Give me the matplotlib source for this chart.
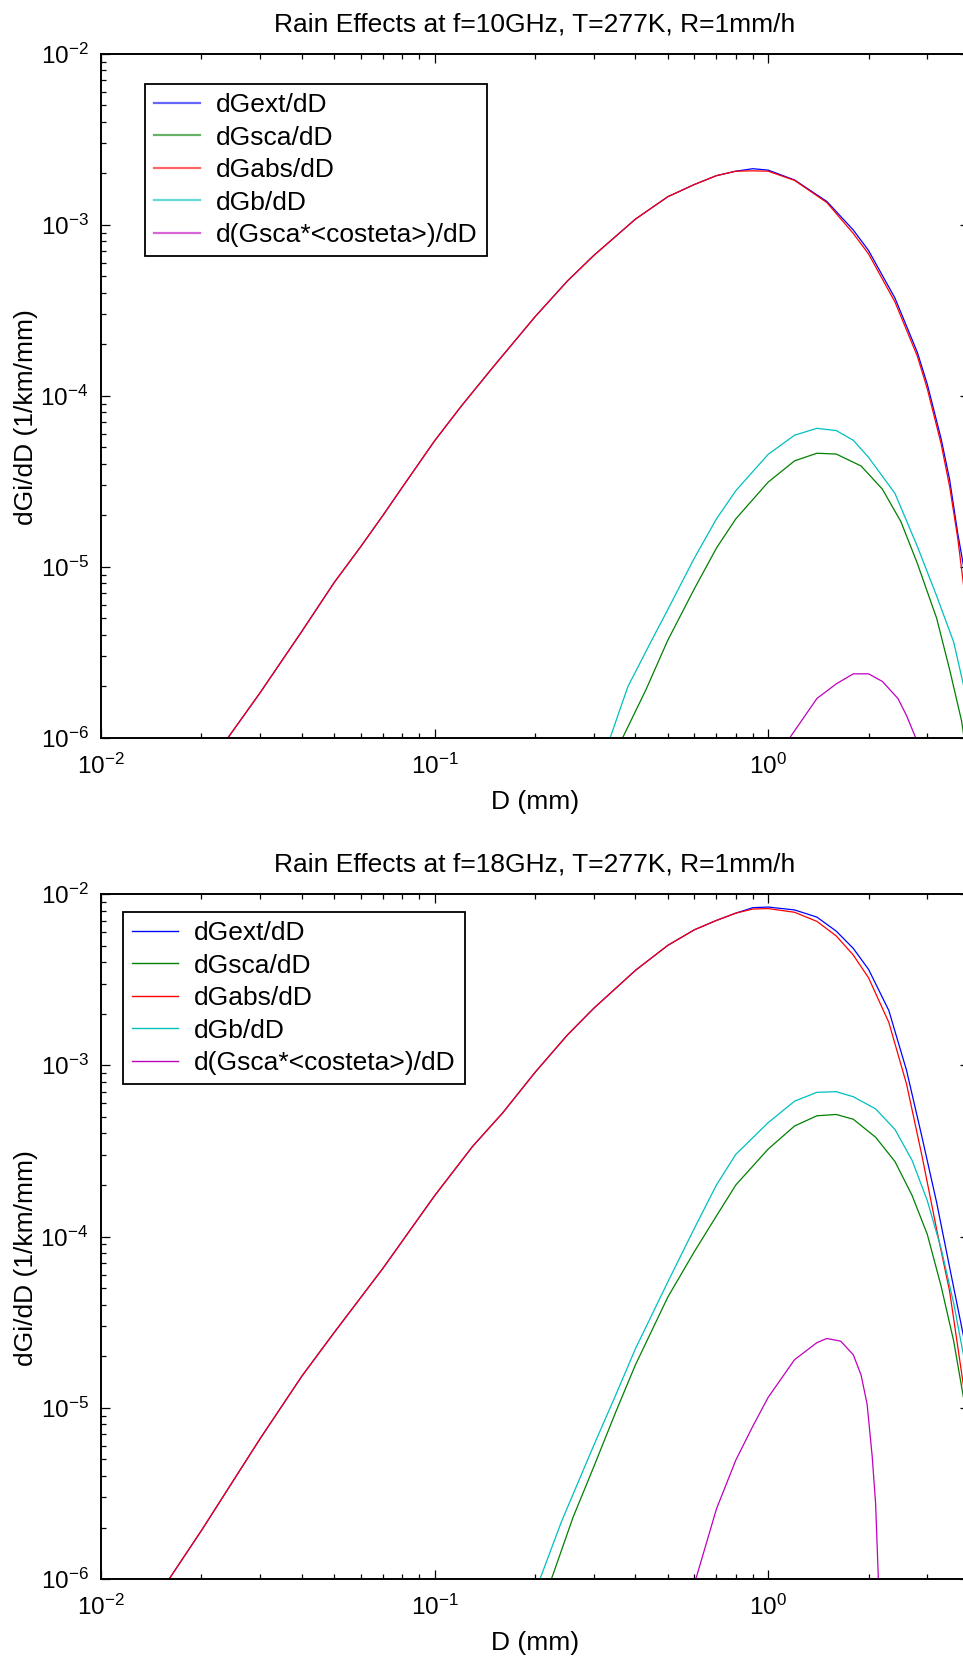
# Rain effects: size-resolved extinction, scattering, absorption, backscatter
# and asymmetry terms per drop diameter, for two frequencies.

import matplotlib
matplotlib.use("Agg")
import matplotlib.pyplot as plt

plt.rcParams['font.family'] = ['Liberation Sans', 'DejaVu Sans']
plt.rcParams['mathtext.default'] = 'regular'
plt.rcParams['axes.unicode_minus'] = False

labels = ['dGext/dD', 'dGsca/dD', 'dGabs/dD', 'dGb/dD', 'd(Gsca*<costeta>)/dD']
colors = ['#0000ff', '#008000', '#ff0000', '#00bfbf', '#bf00bf']

# ---- f = 10 GHz ----
d_ea_10 = [0.024, 0.03, 0.04, 0.05, 0.06, 0.07, 0.08, 0.1, 0.12, 0.15, 0.2, 0.25,
           0.3, 0.4, 0.5, 0.6, 0.7, 0.8, 0.9, 1.0, 1.2, 1.5, 1.8, 2.0, 2.4, 2.8,
           3.0, 3.3, 3.5, 3.7, 3.85, 4.0]
g_ext_10 = [1.0e-6, 1.84e-6, 4.2e-6, 8.1e-6, 1.31e-5, 2.0e-5, 2.92e-5, 5.46e-5,
            8.67e-5, 1.48e-4, 2.90e-4, 4.69e-4, 6.62e-4, 1.08e-3, 1.46e-3, 1.72e-3,
            1.94e-3, 2.06e-3, 2.13e-3, 2.09e-3, 1.83e-3, 1.37e-3, 9.33e-4, 7.08e-4,
            3.73e-4, 1.80e-4, 1.17e-4, 5.62e-5, 3.24e-5, 1.58e-5, 1.02e-5, 5.6e-6]
g_abs_10 = [1.0e-6, 1.84e-6, 4.2e-6, 8.1e-6, 1.31e-5, 2.0e-5, 2.92e-5, 5.46e-5,
            8.67e-5, 1.48e-4, 2.90e-4, 4.69e-4, 6.62e-4, 1.08e-3, 1.46e-3, 1.72e-3,
            1.94e-3, 2.06e-3, 2.07e-3, 2.06e-3, 1.82e-3, 1.35e-3, 8.91e-4, 6.76e-4,
            3.54e-4, 1.71e-4, 1.10e-4, 5.25e-5, 2.95e-5, 1.48e-5, 7.94e-6, 4.5e-6]
d_sca_10 = [0.366, 0.43, 0.5, 0.6, 0.7, 0.8, 1.0, 1.2, 1.4, 1.6, 1.9, 2.2, 2.5,
            2.8, 3.2, 3.5, 3.8, 3.9]
g_sca_10 = [1.0e-6, 1.91e-6, 3.72e-6, 7.41e-6, 1.29e-5, 1.91e-5, 3.13e-5, 4.17e-5,
            4.62e-5, 4.57e-5, 3.89e-5, 2.85e-5, 1.84e-5, 1.05e-5, 5.01e-6, 2.51e-6,
            1.26e-6, 8.9e-7]
d_b_10 = [0.336, 0.36, 0.38, 0.45, 0.5, 0.6, 0.7, 0.8, 1.0, 1.2, 1.4, 1.6, 1.8,
          2.0, 2.4, 2.8, 3.2, 3.6, 3.85, 4.0]
g_b_10 = [1.0e-6, 1.48e-6, 2.0e-6, 3.80e-6, 5.62e-6, 1.12e-5, 1.91e-5, 2.79e-5,
          4.55e-5, 5.89e-5, 6.46e-5, 6.27e-5, 5.50e-5, 4.37e-5, 2.69e-5, 1.32e-5,
          6.76e-6, 3.63e-6, 2.04e-6, 1.41e-6]
d_cos_10 = [1.16, 1.28, 1.4, 1.6, 1.8, 2.0, 2.2, 2.45, 2.6, 2.77]
g_cos_10 = [1.0e-6, 1.32e-6, 1.70e-6, 2.07e-6, 2.37e-6, 2.37e-6, 2.14e-6, 1.70e-6,
            1.35e-6, 1.0e-6]

# ---- f = 18 GHz ----
d_ea_18 = [0.016, 0.02, 0.03, 0.04, 0.05, 0.07, 0.1, 0.13, 0.16, 0.2, 0.25, 0.3,
           0.4, 0.5, 0.6, 0.7, 0.8, 0.9, 1.0, 1.2, 1.4, 1.6, 1.8, 2.0, 2.3, 2.6,
           2.9, 3.2, 3.5, 3.85, 4.0]
g_ext_18 = [1.0e-6, 1.92e-6, 6.61e-6, 1.53e-5, 2.75e-5, 6.52e-5, 1.73e-4, 3.36e-4,
            5.27e-4, 9.08e-4, 1.50e-3, 2.15e-3, 3.58e-3, 5.01e-3, 6.17e-3, 7.01e-3,
            7.73e-3, 8.32e-3, 8.39e-3, 8.07e-3, 7.33e-3, 6.07e-3, 4.81e-3, 3.63e-3,
            2.09e-3, 9.33e-4, 3.72e-4, 1.58e-4, 6.61e-5, 2.63e-5, 1.66e-5]
g_abs_18 = [1.0e-6, 1.92e-6, 6.61e-6, 1.53e-5, 2.75e-5, 6.52e-5, 1.73e-4, 3.36e-4,
            5.27e-4, 9.08e-4, 1.50e-3, 2.15e-3, 3.58e-3, 5.01e-3, 6.17e-3, 7.01e-3,
            7.73e-3, 8.17e-3, 8.22e-3, 7.82e-3, 6.92e-3, 5.69e-3, 4.40e-3, 3.24e-3,
            1.78e-3, 7.76e-4, 2.88e-4, 1.10e-4, 4.79e-5, 1.35e-5, 7.9e-6]
d_sca_18 = [0.224, 0.26, 0.3, 0.35, 0.4, 0.5, 0.6, 0.7, 0.8, 1.0, 1.2, 1.4, 1.6,
            1.8, 2.1, 2.4, 2.7, 3.0, 3.3, 3.6, 3.85, 4.0]
g_sca_18 = [1.0e-6, 2.29e-6, 4.52e-6, 9.55e-6, 1.78e-5, 4.42e-5, 8.13e-5, 1.32e-4,
            2.00e-4, 3.24e-4, 4.42e-4, 5.07e-4, 5.16e-4, 4.84e-4, 3.80e-4, 2.74e-4,
            1.74e-4, 1.03e-4, 5.13e-5, 2.45e-5, 1.15e-5, 7.9e-6]
d_b_18 = [0.207, 0.24, 0.3, 0.35, 0.4, 0.5, 0.6, 0.7, 0.8, 1.0, 1.2, 1.4, 1.6,
          1.8, 2.1, 2.4, 2.7, 3.0, 3.3, 3.6, 3.85, 4.0]
g_b_18 = [1.0e-6, 2.16e-6, 6.03e-6, 1.20e-5, 2.21e-5, 5.42e-5, 1.11e-4, 2.00e-4,
          3.02e-4, 4.62e-4, 6.17e-4, 6.95e-4, 7.01e-4, 6.55e-4, 5.56e-4, 4.22e-4,
          2.79e-4, 1.62e-4, 8.51e-5, 4.07e-5, 2.04e-5, 1.41e-5]
d_cos_18 = [0.607, 0.7, 0.8, 0.9, 1.0, 1.2, 1.4, 1.5, 1.65, 1.8, 1.9, 1.98, 2.05,
            2.1, 2.14]
g_cos_18 = [1.0e-6, 2.57e-6, 4.95e-6, 7.82e-6, 1.15e-5, 1.91e-5, 2.40e-5, 2.54e-5,
            2.45e-5, 2.04e-5, 1.55e-5, 1.05e-5, 5.25e-6, 2.75e-6, 1.0e-6]


def draw_panel(ax, title, series, legend_anchor, legend_alpha):
    for (d, g), lab, col in zip(series, labels, colors):
        ax.plot(d, g, color=col, lw=0.9, label=lab)

    ax.set_xscale('log')
    ax.set_yscale('log')
    ax.set_xlim(0.01, 4.0)
    ax.set_ylim(1e-6, 1e-2)

    ax.tick_params(which='both', direction='in', top=True, right=True,
                   labelsize=17.5, width=0.9)
    ax.tick_params(which='major', length=6.5)
    ax.tick_params(which='minor', length=3.6)
    ax.tick_params(axis='x', pad=11)
    ax.tick_params(axis='y', pad=9)
    for sp in ax.spines.values():
        sp.set_linewidth(1.4)

    ax.set_title(title, fontsize=19, pad=16)
    ax.set_xlabel('D (mm)', fontsize=19, labelpad=8)
    ax.set_ylabel('dGi/dD (1/km/mm)', fontsize=19)
    ax.yaxis.set_label_coords(-0.0726, 0.469)

    leg = ax.legend(loc='upper left', bbox_to_anchor=legend_anchor,
                    borderaxespad=0, fontsize=19, fancybox=False,
                    framealpha=1, edgecolor='black', handlelength=1.75,
                    handletextpad=0.6, labelspacing=0.32, borderpad=0.35)
    leg.get_frame().set_linewidth(1.3)
    for h in leg.get_lines():
        h.set_alpha(legend_alpha)
        h.set_linewidth(1.6 if legend_alpha < 1 else 1.0)


fig = plt.figure(figsize=(9.63, 16.62), dpi=100)
ax1 = fig.add_axes([0.1049, 0.5560, 0.9013, 0.4116])
ax2 = fig.add_axes([0.1049, 0.0499, 0.9013, 0.4122])

draw_panel(ax1, 'Rain Effects at f=10GHz, T=277K, R=1mm/h',
           [(d_ea_10, g_ext_10), (d_sca_10, g_sca_10), (d_ea_10, g_abs_10),
            (d_b_10, g_b_10), (d_cos_10, g_cos_10)],
           (0.0507, 0.956), 0.6)
draw_panel(ax2, 'Rain Effects at f=18GHz, T=277K, R=1mm/h',
           [(d_ea_18, g_ext_18), (d_sca_18, g_sca_18), (d_ea_18, g_abs_18),
            (d_b_18, g_b_18), (d_cos_18, g_cos_18)],
           (0.0253, 0.9737), 1.0)

fig.savefig('out.png', dpi=100)
